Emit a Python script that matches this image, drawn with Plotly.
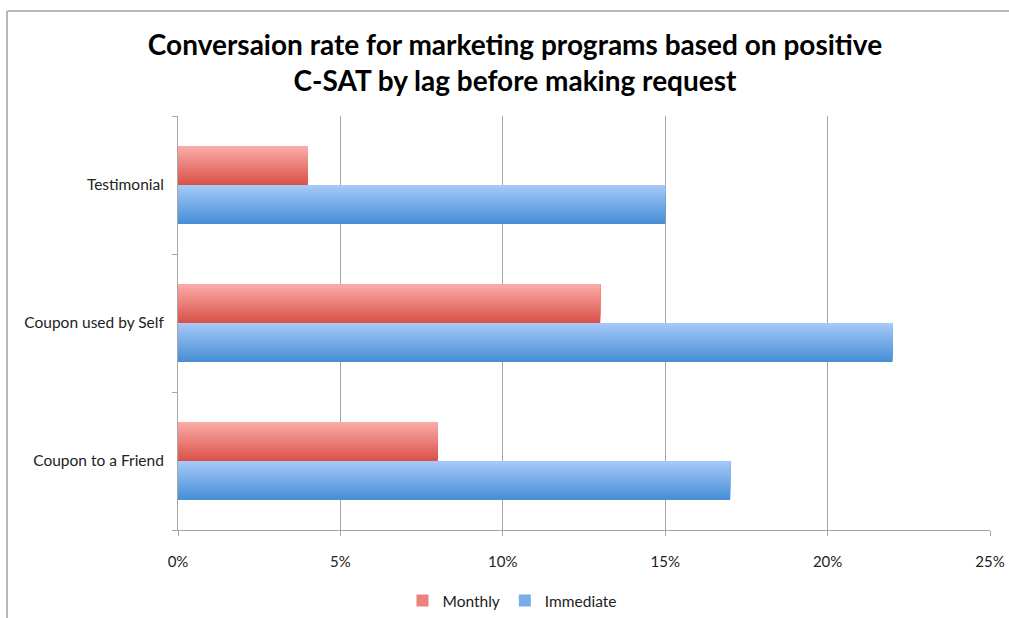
import plotly.graph_objects as go

# Data
categories = ["Coupon to a Friend", "Coupon used by Self", "Testimonial"]
monthly = [0.08, 0.13, 0.04]
immediate = [0.17, 0.22, 0.15]

x_ticks = [0, 0.05, 0.10, 0.15, 0.20, 0.25]
x_tick_labels = ["0%", "5%", "10%", "15%", "20%", "25%"]

FONT = "Lato, 'Open Sans', sans-serif"

# Vertical gradient for each bar: stripes, each drawn from its own start
# up to the bar's top edge so later (lighter) stripes cover earlier ones.
N_STRIPES = 16
BAR_W = 0.283


def mix(c1, c2, t):
    return "rgb(%d,%d,%d)" % tuple(round(a + (b - a) * t) for a, b in zip(c1, c2))


series = [
    ("Monthly", monthly, (250, 170, 166), (218, 84, 74), 0.0),
    ("Immediate", immediate, (164, 200, 248), (72, 143, 214), -BAR_W),
]

fig = go.Figure()
for name, values, top, bottom, base_off in series:
    sw = BAR_W / N_STRIPES
    for i in range(N_STRIPES):
        t = i / (N_STRIPES - 1)  # 0 = bottom stripe, 1 = top stripe
        fig.add_trace(go.Bar(
            y=categories, x=values, orientation="h",
            name=name, legendgroup=name,
            showlegend=(i == N_STRIPES // 2),
            offset=base_off + i * sw, width=BAR_W - i * sw,
            marker=dict(color=mix(bottom, top, t), line=dict(width=0)),
            hoverinfo="x+y",
        ))

L, R, T, B = 178, 990, 116, 530
W, H = 1009, 618


def px_x(p):
    return (p - L) / (R - L)


def px_y(p):
    return (B - p) / (B - T)


fig.update_layout(
    width=W, height=H,
    margin=dict(l=L, r=W - R, t=T, b=H - B),
    paper_bgcolor="white", plot_bgcolor="white",
    barmode="overlay",
    font=dict(family=FONT, size=15, color="#222222"),
    title=dict(
        text="<b>Conversaion rate for marketing programs based on positive<br>C-SAT by lag before making request</b>",
        x=(515 / W), xref="container", xanchor="center",
        y=1 - 55 / H, yref="container", yanchor="middle",
        font=dict(family=FONT, size=28, color="#000000"),
    ),
    xaxis=dict(
        range=[0, 0.25], tickvals=x_ticks, ticktext=x_tick_labels,
        showgrid=True, gridcolor="#a6a6a6", gridwidth=1,
        showline=True, linecolor="#a6a6a6", linewidth=1,
        ticks="outside", ticklen=5, tickcolor="#a6a6a6",
        ticklabelstandoff=13, zeroline=False, automargin=False,
        tickfont=dict(size=15, color="#222222"),
    ),
    yaxis=dict(
        type="category", categoryorder="array", categoryarray=categories,
        range=[-0.5, 2.5],
        showgrid=False, showline=True, linecolor="#a6a6a6", linewidth=1,
        ticks="outside", ticklen=5, tickcolor="#a6a6a6", tickson="boundaries",
        ticklabelstandoff=10, automargin=False,
        tickfont=dict(size=15.5, color="#222222"),
    ),
    legend=dict(
        orientation="h", xref="container", x=512 / W, xanchor="center",
        yref="container", y=1 - 601 / H, yanchor="middle",
        font=dict(size=15.5, color="#222222"),
        itemwidth=30, traceorder="normal",
    ),
    shapes=[
        dict(type="line", xref="paper", yref="paper",
             x0=px_x(7), x1=px_x(W), y0=px_y(11), y1=px_y(11),
             line=dict(color="#b8b8b8", width=2)),
        dict(type="line", xref="paper", yref="paper",
             x0=px_x(7), x1=px_x(7), y0=px_y(11), y1=px_y(H),
             line=dict(color="#b8b8b8", width=2)),
    ],
)

fig.write_html("out.html")
